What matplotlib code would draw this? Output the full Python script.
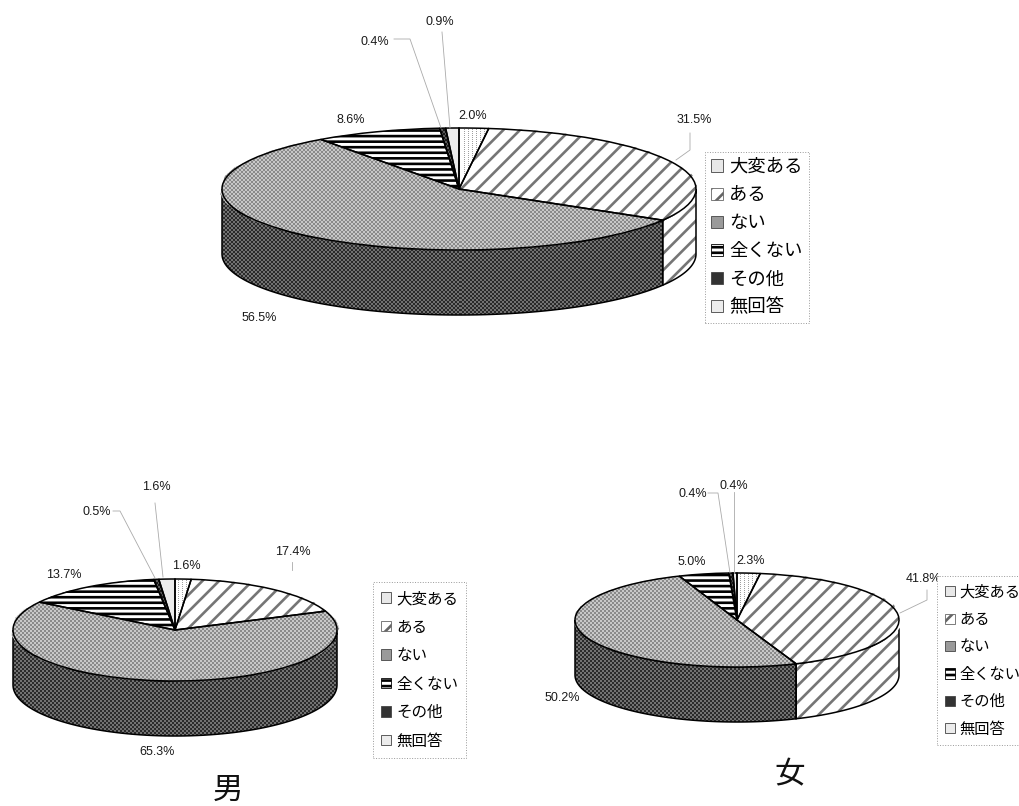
import numpy as np
import matplotlib
matplotlib.use('Agg')
import matplotlib.pyplot as plt
from matplotlib.patches import Patch, Polygon

plt.rcParams['font.family'] = ['Noto Sans CJK JP', 'DejaVu Sans']
plt.rcParams['hatch.linewidth'] = 1.9

W, H = 1019, 806

categories = ['大変ある', 'ある', 'ない', '全くない', 'その他', '無回答']
total_values = [2.0, 31.5, 56.5, 8.6, 0.4, 0.9]
male_values = [1.6, 17.4, 65.3, 13.7, 0.5, 1.6]
female_values = [2.3, 41.8, 50.2, 5.0, 0.4, 0.4]

# halftone levels for the top face and the wall; hatched slices use a line colour
fills = {
    '大変ある': dict(kind='dots', top=('#ffffff', '#a0a0a0'), wall=('#ffffff', '#a0a0a0')),
    'ある': dict(kind='hatch', hatch='//', color='#757575'),
    'ない': dict(kind='weave', top=('#c8c8c8', '#8a8a8a'), wall=('#727272', '#2a2a2a')),
    '全くない': dict(kind='hatch', hatch='---', color='#000000'),
    'その他': dict(kind='weave', top=('#5a5a5a', '#1a1a1a'), wall=('#5a5a5a', '#1a1a1a')),
    '無回答': dict(kind='solid', top=('#ececec', '#ececec'), wall=('#d0d0d0', '#d0d0d0')),
}
legend_shades = {'大変ある': '#e8e8e8', 'ない': '#9a9a9a', 'その他': '#333333', '無回答': '#ececec'}


def pattern(kind, levels, h, w):
    yy, xx = np.mgrid[:h, :w]
    if kind == 'weave':
        on = (xx // 2 + yy // 2) % 2 == 0
    elif kind == 'dots':
        on = (xx % 4 == 0) & (yy % 2 == 0)
    else:
        on = np.zeros((h, w), dtype=bool)
    img = np.empty((h, w, 3))
    img[~on] = matplotlib.colors.to_rgb(levels[0])
    img[on] = matplotlib.colors.to_rgb(levels[1])
    return img


def fill_region(ax, verts, name, part, zorder, box, extent):
    spec = fills[name]
    if spec['kind'] == 'hatch':
        ax.add_patch(Polygon(verts, closed=True, facecolor='white', edgecolor=spec['color'],
                             hatch=spec['hatch'], lw=0, zorder=zorder))
    else:
        outline = Polygon(verts, closed=True, facecolor='none', edgecolor='none', zorder=zorder)
        ax.add_patch(outline)
        im = ax.imshow(pattern(spec['kind'], spec[part], *box), extent=extent, aspect='auto',
                       interpolation='nearest', zorder=zorder)
        im.set_clip_path(outline)


def draw_pie(values, cx, cy, a, b, depth):
    # one axes per pie, ellipse of radius 1 in data units
    margin = 3
    left, right = cx - a - margin, cx + a + margin
    top, bottom = cy - b - margin, cy + b + depth + margin
    ax = fig.add_axes([left / W, 1 - bottom / H, (right - left) / W, (bottom - top) / H])
    wedges, _ = ax.pie(values, startangle=90, counterclock=False, radius=1,
                       wedgeprops=dict(facecolor='none', edgecolor='black', linewidth=1.1, zorder=6))
    ax.set_aspect('auto')
    x0, x1 = -1 - margin / a, 1 + margin / a
    y0, y1 = -1 - (depth + margin) / b, 1 + margin / b
    ax.set_xlim(x0, x1)
    ax.set_ylim(y0, y1)
    extent = (x0, x1, y0, y1)
    box = (int(bottom - top), int(right - left))

    # walls only show on the front half, 90 to 270 degrees clockwise from the top
    d = depth / b
    edges = np.cumsum([0] + list(values)) / sum(values) * 360
    for name, t0, t1 in zip(categories, edges[:-1], edges[1:]):
        s0, s1 = max(t0, 90), min(t1, 270)
        if s1 <= s0:
            continue
        t = np.radians(np.linspace(s0, s1, 80))
        xs = np.sin(t)
        ys = np.cos(t)
        verts = np.r_[np.c_[xs, ys], np.c_[xs, ys - d][::-1]]
        ax.add_patch(Polygon(verts, closed=True, facecolor='none', edgecolor='black', linewidth=1.1, zorder=4))
        fill_region(ax, verts, name, 'wall', 3.5, box, extent)

    for name, wedge in zip(categories, wedges):
        path = wedge.get_transform().transform_path(wedge.get_path())
        verts = ax.transData.inverted().transform(path.interpolated(8).vertices)
        fill_region(ax, verts, name, 'top', 5.5, box, extent)
    ax.set_xlim(x0, x1)
    ax.set_ylim(y0, y1)
    return ax


def add_legend(x, y, fontsize, spacing, pad):
    handles = []
    for name in categories:
        spec = fills[name]
        if spec['kind'] == 'hatch':
            handles.append(Patch(facecolor='white', edgecolor='black' if spec['hatch'] == '---' else '#666666',
                                 hatch=spec['hatch'], linewidth=0.6))
        else:
            handles.append(Patch(facecolor=legend_shades[name], edgecolor='#444444', linewidth=0.6))
    leg = fig.legend(handles, categories, loc='upper left', bbox_to_anchor=(x / W, 1 - y / H),
                     bbox_transform=fig.transFigure, fontsize=fontsize, labelspacing=spacing,
                     handlelength=0.65, handleheight=0.65, handletextpad=0.33, borderpad=pad,
                     borderaxespad=0, fancybox=False, framealpha=1, edgecolor='#999999')
    leg.get_frame().set_linewidth(0.7)
    leg.get_frame().set_linestyle(':')
    leg.set_zorder(20)


fig = plt.figure(figsize=(W / 100, H / 100), dpi=100, facecolor='white')

draw_pie(total_values, 459, 189, 237, 61, 65)
draw_pie(male_values, 175, 630, 162, 51, 55)
draw_pie(female_values, 737, 620, 162, 47, 55)

# page-level axes in pixels for value labels, leader lines and captions
page = fig.add_axes([0, 0, 1, 1], zorder=10)
page.set_xlim(0, W)
page.set_ylim(H, 0)
page.axis('off')
page.patch.set_alpha(0)

label_positions = [
    (total_values, [(473, 116), (694, 120), (259, 318), (351, 120), (375, 42), (440, 22)]),
    (male_values, [(186, 566), (293, 552), (157, 752), (64, 575), (97, 512), (156, 487)]),
    (female_values, [(751, 561), (923, 579), (562, 698), (692, 562), (693, 494), (734, 486)]),
]
for values, spots in label_positions:
    for v, (x, y) in zip(values, spots):
        page.text(x, y, f'{v:.1f}%', ha='center', va='center', fontsize=9,
                  family='Liberation Sans', color='#1a1a1a')

leaders = [
    [(394, 39), (410, 39), (441, 128)],
    [(442, 32), (450, 128)],
    [(690, 133), (690, 150), (676, 160)],
    [(113, 511), (120, 511), (155, 578)],
    [(155, 503), (163, 577)],
    [(292, 562), (292, 570)],
    [(708, 493), (718, 493), (730, 573)],
    [(734, 492), (734, 573)],
    [(927, 590), (927, 600), (900, 613)],
]
for path in leaders:
    xs, ys = zip(*path)
    page.plot(xs, ys, color='#aaaaaa', lw=0.6)

page.text(228, 790, '男', ha='center', va='center', fontsize=22, color='#111111')
page.text(790, 775, '女', ha='center', va='center', fontsize=22, color='#111111')

add_legend(705, 152, 13.2, 0.55, 0.33)
add_legend(373, 582, 11.2, 0.74, 0.52)
add_legend(937, 576, 11.0, 0.68, 0.5)

fig.savefig('out.png', dpi=100)
